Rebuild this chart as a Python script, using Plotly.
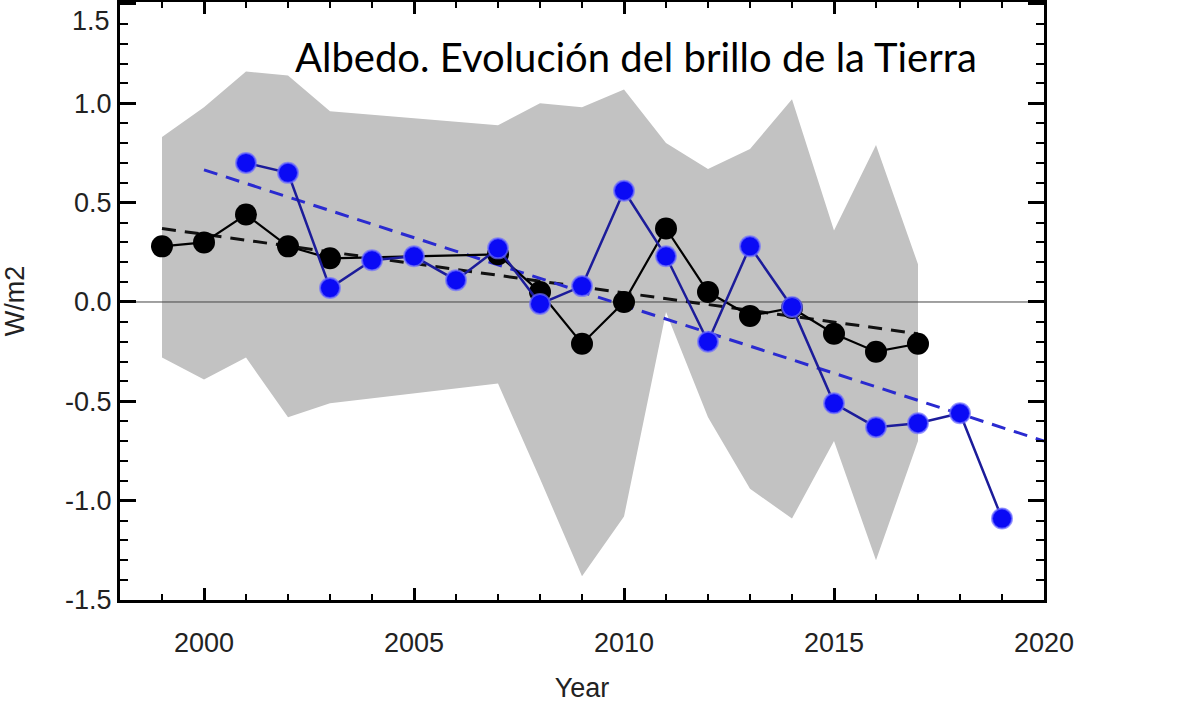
import plotly.graph_objects as go

# ---- data ----
black_years = [1999, 2000, 2001, 2002, 2003, 2007, 2008, 2009, 2010, 2011, 2012, 2013, 2014, 2015, 2016, 2017]
black_vals = [0.28, 0.30, 0.44, 0.28, 0.22, 0.24, 0.05, -0.21, 0.00, 0.37, 0.05, -0.07, -0.03, -0.16, -0.25, -0.21]

blue_years = [2001, 2002, 2003, 2004, 2005, 2006, 2007, 2008, 2009, 2010, 2011, 2012, 2013, 2014,
              2015, 2016, 2017, 2018, 2019]
blue_vals = [0.70, 0.65, 0.07, 0.21, 0.23, 0.11, 0.27, -0.01, 0.08, 0.56, 0.23, -0.20, 0.28, -0.025,
             -0.51, -0.63, -0.61, -0.56, -1.09]

band_years = [1999, 2000, 2001, 2002, 2003, 2007, 2008, 2009, 2010, 2011, 2012, 2013, 2014, 2015, 2016, 2017]
band_upper = [0.83, 0.98, 1.16, 1.14, 0.96, 0.89, 1.00, 0.98, 1.07, 0.80, 0.67, 0.77, 1.02, 0.36, 0.79, 0.19]
band_lower = [-0.28, -0.39, -0.28, -0.58, -0.51, -0.41, -0.89, -1.38, -1.08, -0.05, -0.58, -0.94, -1.09, -0.70, -1.30, -0.70]

black_trend_years = [1999, 2017]
black_trend_vals = [0.37, -0.16]
blue_trend_years = [2000, 2020]
blue_trend_vals = [0.665, -0.70]

zero_years = [1998, 2020]
zero_vals = [0, 0]

x_ticks = [2000, 2005, 2010, 2015, 2020]
y_ticks = [-1.5, -1.0, -0.5, 0.0, 0.5, 1.0, 1.5]
y_tick_labels = ["-1.5", "-1.0", "-0.5", "0.0", "0.5", "1.0", ""]
y_top_label = "1.5"

title_text = "Albedo. Evolución del brillo de la Tierra"

# ---- figure ----
fig = go.Figure()

fig.add_trace(go.Scatter(x=band_years, y=band_lower, mode="lines",
                         line=dict(width=0, color="#c0c0c0"), hoverinfo="skip", showlegend=False))
fig.add_trace(go.Scatter(x=band_years, y=band_upper, mode="lines", fill="tonexty",
                         fillcolor="#c2c2c2", line=dict(width=0, color="#c2c2c2"),
                         hoverinfo="skip", showlegend=False))

fig.add_trace(go.Scatter(x=zero_years, y=zero_vals, mode="lines",
                         line=dict(color="#444444", width=1), hoverinfo="skip", showlegend=False))

fig.add_trace(go.Scatter(x=black_trend_years, y=black_trend_vals, mode="lines",
                         line=dict(color="#111111", width=3, dash="14px,9px"), showlegend=False))
fig.add_trace(go.Scatter(x=blue_trend_years, y=blue_trend_vals, mode="lines",
                         line=dict(color="#2a2ad0", width=3, dash="14px,9px"), showlegend=False))

fig.add_trace(go.Scatter(x=black_years, y=black_vals, mode="lines+markers",
                         line=dict(color="#000000", width=2.2),
                         marker=dict(size=22, color="#000000"), showlegend=False))
fig.add_trace(go.Scatter(x=blue_years, y=blue_vals, mode="lines+markers",
                         line=dict(color="#1c1c9a", width=2.5),
                         marker=dict(size=20, color="#0a0af5",
                                     line=dict(color="rgba(110,110,255,0.7)", width=2)),
                         showlegend=False))

axis_font = dict(family="Liberation Sans, Arial", size=27, color="#222222")

fig.add_annotation(text=title_text, xref="paper", yref="paper", x=0.187, y=0.908,
                   xanchor="left", yanchor="middle", showarrow=False,
                   font=dict(family="Lato", size=40, color="#000000"))

# top y label placed just below the top edge so it is not clipped
fig.add_annotation(text=y_top_label, xref="paper", yref="y", x=0, y=1.5,
                   xanchor="right", yanchor="top", xshift=-8, yshift=0, showarrow=False,
                   font=axis_font)

fig.update_xaxes(range=[1998, 2020], tickvals=x_ticks, ticks="inside", ticklen=12, tickwidth=2.5,
                 tickcolor="black", showline=True, linewidth=3, linecolor="black", mirror="ticks",
                 showgrid=False, zeroline=False, tickfont=axis_font, ticklabelstandoff=17,
                 automargin=False,
                 minor=dict(dtick=1, ticks="inside", ticklen=6, tickwidth=2, tickcolor="black", showgrid=False),
                 title=dict(text="Year", font=axis_font, standoff=21))
fig.update_yaxes(range=[-1.5, 1.51], tickvals=y_ticks, ticktext=y_tick_labels, ticks="inside",
                 ticklen=16, tickwidth=2.5, tickcolor="black", showline=True, linewidth=3,
                 linecolor="black", mirror="ticks", showgrid=False, zeroline=False,
                 tickfont=axis_font, ticklabelstandoff=0, automargin=False,
                 minor=dict(dtick=0.1, tick0=0, ticks="inside", ticklen=8, tickwidth=2,
                            tickcolor="black", showgrid=False),
                 title=dict(text="W/m2", font=axis_font, standoff=36))

fig.update_layout(width=1200, height=704, margin=dict(l=120, r=156, t=2, b=104),
                  plot_bgcolor="white", paper_bgcolor="white")

fig.write_html("out.html", config={"displayModeBar": False},
               post_script="document.body.style.margin='0px';document.body.style.overflow='hidden';")
